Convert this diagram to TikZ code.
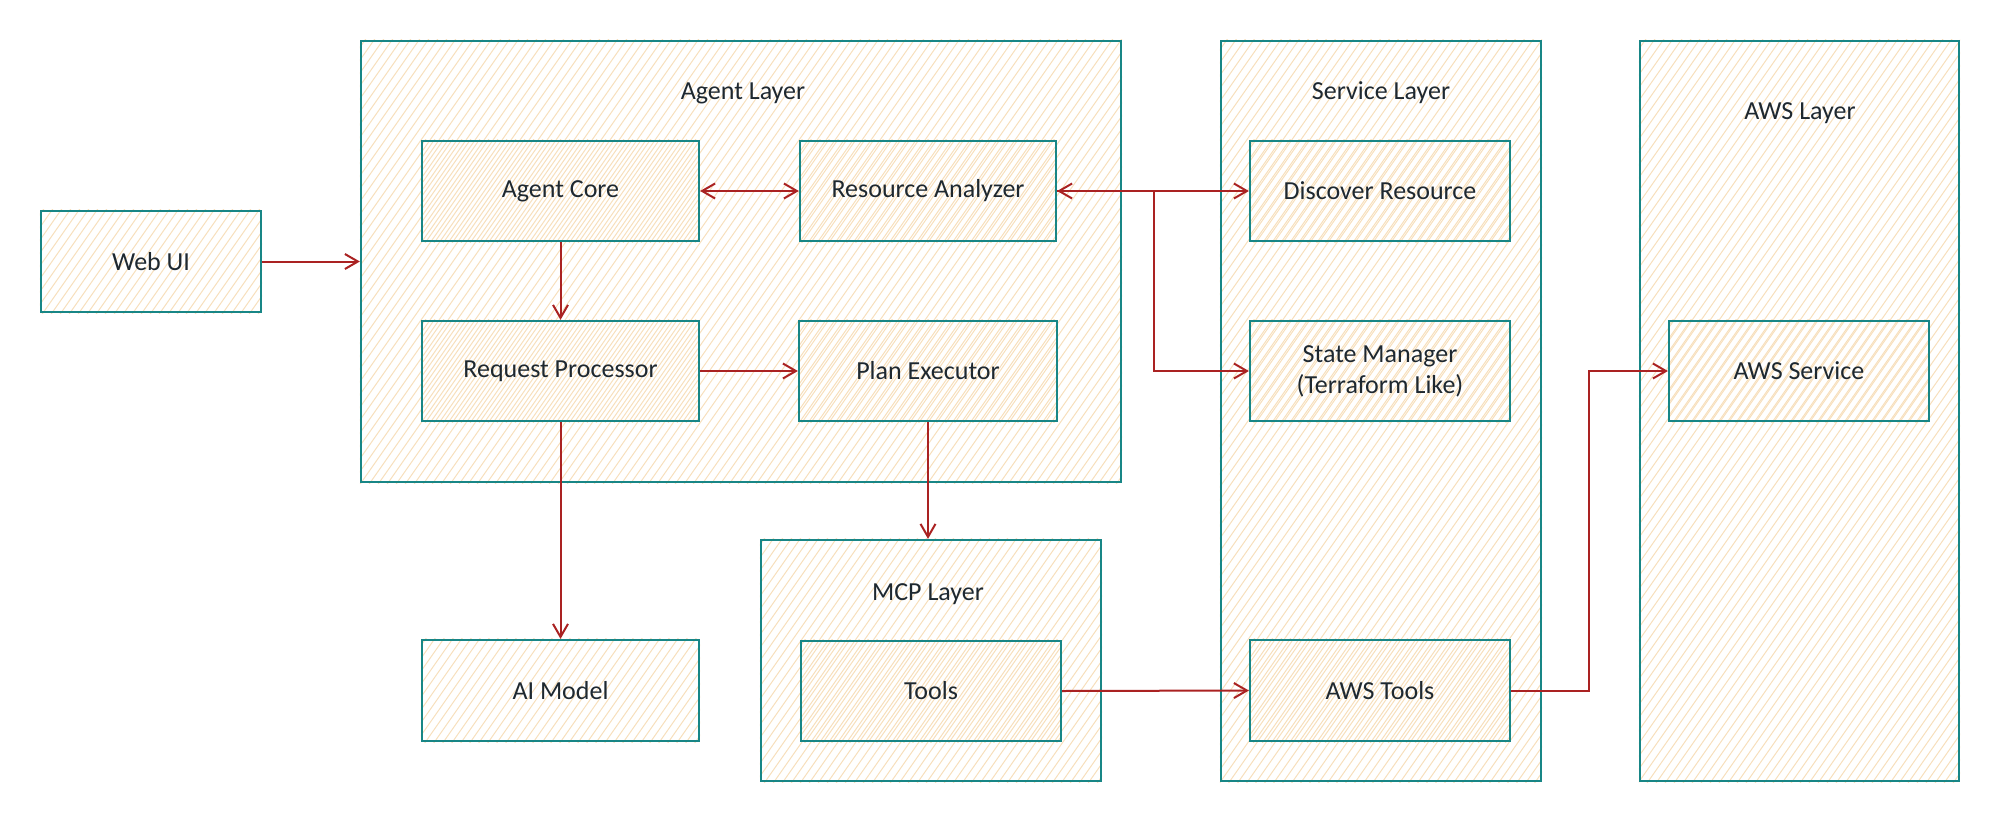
\documentclass[tikz,border=0pt]{standalone}
\usepackage{fontspec}
\setmainfont{Carlito}
\usetikzlibrary{arrows.meta,calc}
\definecolor{teal1}{RGB}{24,134,134}
\definecolor{arrred}{RGB}{170,34,34}
\definecolor{hach}{RGB}{247,223,188}
\definecolor{txt}{RGB}{30,40,48}
\pgfdeclarelayer{background}
\pgfsetlayers{background,main}
\newcommand{\hachbox}[1]{%
  \begin{pgfonlayer}{background}
  \begin{scope}
    \clip (#1.south west) rectangle (#1.north east);
    \foreach \i in {-70,...,70}{
      \draw[hach,line width=1pt] ($(#1.center)+(\i*9,0)+(-287,410)$) -- ++(574,-820);
    }
  \end{scope}
  \end{pgfonlayer}}
\begin{document}
\begin{tikzpicture}[x=1pt,y=-1pt,
  box/.style={draw=teal1,line width=2.2pt,rectangle,inner sep=0pt,
    text=txt,font=\fontsize{26}{31}\selectfont,align=center},
  title/.style={text=txt,font=\fontsize{26}{31}\selectfont,inner sep=0pt},
  arr/.style={draw=arrred,line width=2pt,-{Straight Barb[length=13pt,width=15pt,line width=2pt]}},
  darr/.style={draw=arrred,line width=2pt,{Straight Barb[length=13pt,width=15pt,line width=2pt]}-{Straight Barb[length=13pt,width=15pt,line width=2pt]}}]
\useasboundingbox (0,0) rectangle (2002,822);
% containers
\node[box,minimum width=760,minimum height=441] (agent) at (741,261.5) {};
\node[box,minimum width=320,minimum height=740] (service) at (1381,411) {};
\node[box,minimum width=319,minimum height=740] (awsl) at (1799.5,411) {};
\node[box,minimum width=340,minimum height=241] (mcp) at (931,660.5) {};
\hachbox{agent}\hachbox{service}\hachbox{awsl}\hachbox{mcp}
% titles
\node[title] (agentT) at (743,93) {Agent Layer};
\node[title] (serviceT) at (1381,93) {Service Layer};
\node[title] (awsT) at (1800,113) {AWS Layer};
\node[title] (mcpT) at (928,594) {MCP Layer};
% boxes
\node[box,minimum width=220,minimum height=101] (web) at (151,261.5) {Web UI};
\node[box,minimum width=277,minimum height=100] (core) at (560.5,191) {Agent Core};
\node[box,minimum width=256,minimum height=100] (ra) at (928,191) {Resource Analyzer};
\node[box,minimum width=277,minimum height=100] (req) at (560.5,371) {Request Processor};
\node[box,minimum width=258,minimum height=100] (plan) at (928,371) {Plan Executor};
\node[box,minimum width=260,minimum height=100] (disc) at (1380,191) {Discover Resource};
\node[box,minimum width=260,minimum height=100] (sm) at (1380,371) {State Manager\\(Terraform Like)};
\node[box,minimum width=260,minimum height=101] (awst) at (1380,690.5) {AWS Tools};
\node[box,minimum width=260,minimum height=100] (awss) at (1799,371) {AWS Service};
\node[box,minimum width=277,minimum height=101] (ai) at (560.5,690.5) {AI Model};
\node[box,minimum width=260,minimum height=100] (tools) at (931,691) {Tools};
\foreach \n in {web,core,ra,req,plan,disc,sm,awst,awss,ai,tools}{\hachbox{\n}}
% connectors
\draw[arr] (web.east) -- (agent.west |- web.east);
\draw[darr] (core.east) -- (ra.west);
\draw[arr] (core.south) -- (req.north);
\draw[arr] (req.east) -- (plan.west);
\draw[arr] (req.south) -- (ai.north);
\draw[arr] (plan.south) -- (plan.south |- mcp.north);
\draw[darr] (ra.east) -- (disc.west);
\draw[arr] (ra.east) -- ++(97,0) |- (sm.west);
\draw[arr] (tools.east) -- (awst.west);
\draw[arr] (awst.east) -- ++(78,0) |- (awss.west);
\end{tikzpicture}
\end{document}
